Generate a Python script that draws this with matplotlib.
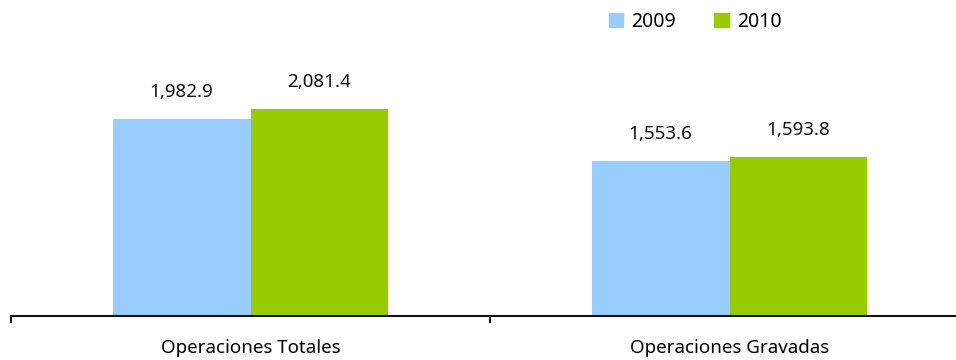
import matplotlib.pyplot as plt
from matplotlib.patches import Patch
import numpy as np

# Data
categories = ["Operaciones Totales", "Operaciones Gravadas"]
series_names = ["2009", "2010"]
values_2009 = [1982.9, 1553.6]
values_2010 = [2081.4, 1593.8]

colors = ["#99CCFF", "#99CC00"]
plt.rcParams["font.family"] = ["Noto Sans", "DejaVu Sans"]

W, H = 956, 360
fig = plt.figure(figsize=(W / 100, H / 100), dpi=100)
# axes placed in pixel terms: x from 11 to 969, y axis line at 315.7
ax = fig.add_axes([11 / W, (H - 315.7) / H, 958 / W, 248.3 / H])

x = np.arange(len(categories))
bw = 0.2875
bars1 = ax.bar(x - bw / 2, values_2009, bw, color=colors[0], label=series_names[0])
bars2 = ax.bar(x + bw / 2, values_2010, bw, color=colors[1], label=series_names[1])

for bars, vals in [(bars1, values_2009), (bars2, values_2010)]:
    for b, v in zip(bars, vals):
        ax.annotate(f"{v:,.1f}", (b.get_x() + b.get_width() / 2, v),
                    xytext=(0, 13), textcoords="offset points",
                    ha="center", va="bottom", fontsize=13.5, color="#111111")

ax.set_xlim(-0.5, 1.5)
ax.set_ylim(0, 2500)
ax.set_yticks([])
for s in ["left", "right", "top"]:
    ax.spines[s].set_visible(False)
ax.spines["bottom"].set_linewidth(1.5)
ax.spines["bottom"].set_color("#111111")

ax.set_xticks(x)
ax.set_xticklabels(categories, fontsize=13.5)
ax.tick_params(axis="x", which="major", length=0, pad=17)
ax.set_xticks([-0.5, 0.5, 1.5], minor=True)
ax.tick_params(axis="x", which="minor", length=5, width=1.5, color="#111111")

handles = [Patch(color=colors[0]), Patch(color=colors[1])]
fig.legend(handles, series_names, loc="center", bbox_to_anchor=(695 / W, 1 - 22 / H),
           ncol=2, frameon=False, fontsize=14, handlelength=0.75, handleheight=0.75,
           handletextpad=0.4, columnspacing=2.0)

fig.savefig("out.png", dpi=100)
